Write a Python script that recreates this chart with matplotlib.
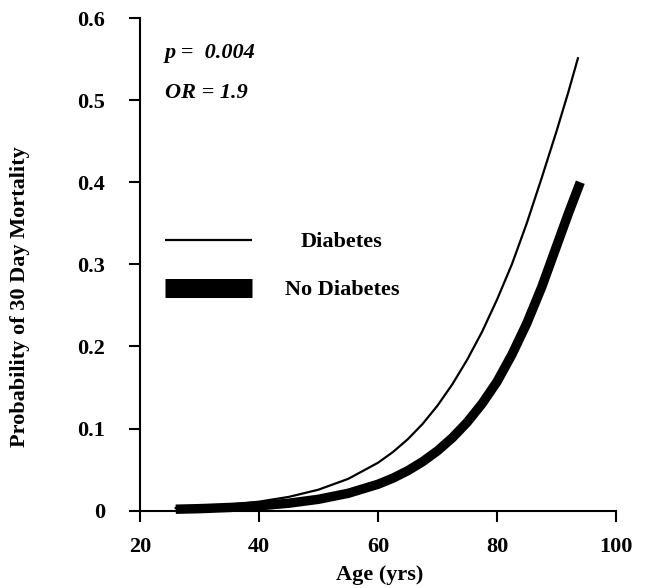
import matplotlib
matplotlib.use("Agg")
import matplotlib.pyplot as plt

# Data
age_diab = [26, 30, 35, 40, 45, 50, 55, 60, 62.5, 65, 67.5, 70, 72.5, 75, 77.5,
            80, 82.5, 85, 87.5, 90, 92, 93.6]
prob_diab = [0.0033, 0.0047, 0.0072, 0.011, 0.0168, 0.0256, 0.0388, 0.0584,
             0.0714, 0.087, 0.1057, 0.128, 0.154, 0.184, 0.218,
             0.257, 0.300, 0.350, 0.405, 0.462, 0.510, 0.551]

age_nodiab = [26, 30, 35, 40, 45, 50, 55, 60, 62.5, 65, 67.5, 70, 72.5, 75, 77.5,
              80, 82.5, 85, 87.5, 90, 92, 94]
prob_nodiab = [0.0018, 0.0025, 0.0039, 0.0059, 0.0091, 0.0139, 0.0212, 0.0322,
               0.0396, 0.0487, 0.0597, 0.0729, 0.0888, 0.1078, 0.1304,
               0.157, 0.190, 0.228, 0.272, 0.322, 0.362, 0.40]

x_ticks = [20, 40, 60, 80, 100]
y_ticks = [0, 0.1, 0.2, 0.3, 0.4, 0.5, 0.6]
y_tick_labels = ["0", "0.1", "0.2", "0.3", "0.4", "0.5", "0.6"]

plt.rcParams['font.family'] = ['Liberation Serif', 'DejaVu Serif']
plt.rcParams['font.weight'] = 'bold'

FS = 16

fig = plt.figure(figsize=(6.5, 5.88), dpi=100)
ax = fig.add_axes([140 / 650, 1 - 510.7 / 588, 476 / 650, 492.7 / 588])

ax.plot(age_nodiab, prob_nodiab, color='black', lw=6.8, solid_capstyle='butt',
        solid_joinstyle='round', clip_on=False, zorder=2)
ax.plot(age_diab, prob_diab, color='black', lw=1.6, solid_joinstyle='round',
        clip_on=False, zorder=3)

ax.set_xlim(20, 100)
ax.set_ylim(0, 0.6)
ax.set_xticks(x_ticks)
ax.set_yticks(y_ticks)
ax.set_yticklabels(y_tick_labels)

for s in ['top', 'right']:
    ax.spines[s].set_visible(False)
for s in ['left', 'bottom']:
    ax.spines[s].set_linewidth(1.5)

ax.tick_params(axis='both', direction='out', length=8, width=1.5,
               labelsize=FS)
ax.tick_params(axis='x', pad=11)
ax.tick_params(axis='y', pad=17)
for lab in ax.get_xticklabels() + ax.get_yticklabels():
    lab.set_fontweight('bold')

ax.set_xlabel("Age (yrs)", fontsize=FS, fontweight='bold', va='center')
ax.xaxis.set_label_coords(0.504, -0.1305)
ax.set_ylabel("Probability of 30 Day Mortality", fontsize=FS, fontweight='bold',
              va='center')
ax.yaxis.set_label_coords(-0.252, 0.434)

# Annotations
ax.text(0.0525, 0.929, "p =  0.004", transform=ax.transAxes, fontsize=FS,
        fontweight='bold', style='italic', va='center', ha='left')
ax.text(0.0525, 0.848, "OR = 1.9", transform=ax.transAxes, fontsize=FS,
        fontweight='bold', style='italic', va='center', ha='left')

# Manual legend
ax.plot([0.0525, 0.235], [0.549, 0.549], transform=ax.transAxes, color='black',
        lw=1.6, solid_capstyle='butt')
ax.plot([0.0525, 0.235], [0.453, 0.453], transform=ax.transAxes, color='black',
        lw=13.7, solid_capstyle='butt')
ax.text(0.424, 0.545, "Diabetes", transform=ax.transAxes, fontsize=FS,
        fontweight='bold', va='center', ha='center')
ax.text(0.424, 0.4477, "No Diabetes", transform=ax.transAxes, fontsize=FS,
        fontweight='bold', va='center', ha='center')

fig.savefig("out.png", dpi=100)
